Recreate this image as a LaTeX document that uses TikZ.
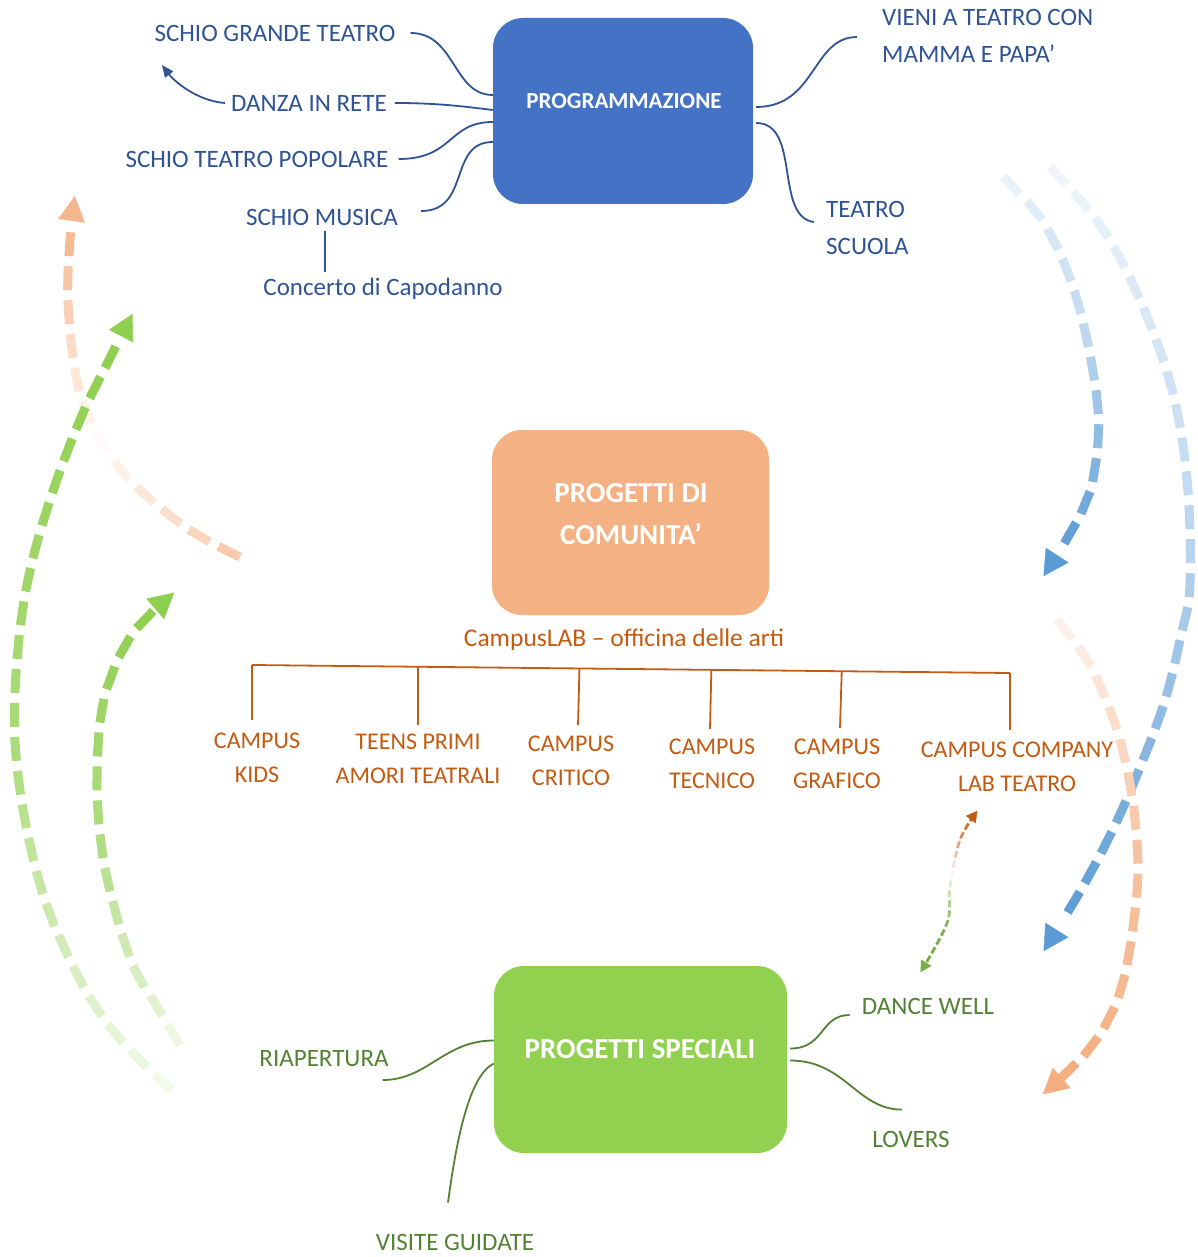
\documentclass[tikz,border=0pt]{standalone}
\usepackage{fontspec}
\setmainfont{Carlito}
\usetikzlibrary{arrows.meta,decorations.markings,calc}
\definecolor{bluetxt}{HTML}{2F5496}
\definecolor{boxblue}{HTML}{4472C4}
\definecolor{orgbox}{HTML}{F4B183}
\definecolor{orgtxt}{HTML}{C55A11}
\definecolor{grnbox}{HTML}{92D050}
\definecolor{grntxt}{HTML}{548235}
\definecolor{bluedash}{HTML}{5B9BD5}
\definecolor{orgdash}{HTML}{F4AE80}
\definecolor{grndash}{HTML}{8FCF4F}
\newcommand\mkfrac{%
  \pgfmathsetmacro\myfr{(\pgfkeysvalueof{/pgf/decoration/mark info/sequence number}*34+12)/(\pgfdecoratedpathlength+0.0001)}%
}
\tikzset{
  fd/.style n args={6}{%
    postaction={decorate},
    decoration={markings,
      mark=between positions 12pt and -26pt step 34pt with {%
        \mkfrac
        \ifdim\myfr pt<0.5pt
          \pgfmathsetmacro\myint{#2+(#3-#2)*2*\myfr}%
        \else
          \pgfmathsetmacro\myint{#3+(#4-#3)*(2*\myfr-1)}%
        \fi
        \pgfmathsetmacro\myint{max(0,min(100,\myint))}%
        \draw[line width=#5, draw=#1!\myint!white] (-#6,0pt) -- (#6,0pt);
      },
      mark=at position -1pt with {\arrow[#1!#4!white]{Triangle[length=25pt,width=27pt]}}
    }
  },
  fdd/.style 2 args={%
    postaction={decorate},
    decoration={markings,
      mark=at position 1pt with {\arrowreversed[#1]{Triangle[length=11pt,width=12pt]}},
      mark=between positions 10pt and -10pt step 10pt with {%
        \pgfmathsetmacro\myfr{(\pgfkeysvalueof{/pgf/decoration/mark info/sequence number}*10+10)/(\pgfdecoratedpathlength+0.0001)}%
        \ifdim\myfr pt<0.5pt
          \pgfmathsetmacro\myint{max(0,min(100,150-290*\myfr))}\def\mycc{#1}%
        \else
          \pgfmathsetmacro\myint{max(0,min(100,290*\myfr-140))}\def\mycc{#2}%
        \fi
        \draw[line width=2.8pt, draw=\mycc!\myint!white] (-3.5pt,0pt) -- (3.5pt,0pt);
      },
      mark=at position -1pt with {\arrow[#2]{Triangle[length=11pt,width=12pt]}}
    }
  },
  box/.style={rounded corners=30pt, inner sep=0pt},
  boxtxt/.style={text=white, font=\bfseries\fontsize{23}{28}\selectfont, align=center},
  boxtxtb/.style={text=white, font=\bfseries\fontsize{29}{42}\selectfont, align=center},
  btxt/.style={text=bluetxt, font=\fontsize{25}{37}\selectfont, inner sep=6pt, align=left},
  otxt/.style={text=orgtxt, font=\fontsize{24}{34}\selectfont, inner sep=4pt, align=center},
  gtxt/.style={text=grntxt, font=\fontsize{25}{30}\selectfont, inner sep=6pt, align=center},
  bcon/.style={draw=bluetxt, line width=1.8pt},
  gcon/.style={draw=grntxt, line width=1.8pt},
  ocon/.style={draw=orgtxt, line width=1.8pt},
}
\begin{document}
\begin{tikzpicture}[x=1pt,y=-1pt]
\useasboundingbox[fill=white] (0,0) rectangle (1197,1257);

% ---------------- boxes
\node[box, fill=boxblue, minimum width=260, minimum height=186] (prog) at (623,111) {};
\node[boxtxt] (progt) at (624,101) {PROGRAMMAZIONE};
\node[box, fill=orgbox, minimum width=277, minimum height=185] (com) at (630.5,522.5) {};
\node[boxtxtb] (comt) at (631,514) {PROGETTI DI\\COMUNITA’};
\node[box, fill=grnbox, minimum width=293, minimum height=187] (spe) at (640.5,1059.5) {};
\node[boxtxtb] (spet) at (640,1049) {PROGETTI SPECIALI};

% ---------------- blue labels
\node[btxt] (sgt) at (275,33) {SCHIO GRANDE TEATRO};
\node[btxt] (dzr) at (309,103) {DANZA IN RETE};
\node[btxt] (stp) at (257,159) {SCHIO TEATRO POPOLARE};
\node[btxt] (smu) at (322,217) {SCHIO MUSICA};
\node[btxt] (cdc) at (383,289) {Concerto di Capodanno};
\node[btxt, anchor=west] (vie) at (876,36) {VIENI A TEATRO CON\\MAMMA E PAPA’};
\node[btxt, anchor=west] (ts) at (820,228) {TEATRO\\SCUOLA};

\draw[bcon] ([xshift=9]sgt.east) .. controls +(45,0) and +(-40,0) .. ($(prog.west)+(0,-16)$);
\draw[bcon] ([xshift=2]dzr.east) .. controls +(45,0) and +(-25,-3) .. ($(prog.west)+(0,-1)$);
\draw[bcon] ([xshift=4]stp.east) .. controls +(55,0) and +(-45,0) .. ($(prog.west)+(0,11)$);
\draw[bcon] ($(smu.east)+(17,-6)$) .. controls +(50,0) and +(-45,0) .. ($(prog.west)+(0,31)$);
\coordinate (vx) at (325,0);
\draw[bcon] (vx |- smu.south) -- (vx |- cdc.north);
\draw[bcon, -{Triangle[length=12pt,width=10pt]}] (dzr.west) .. controls +(-28,-2) and +(12,16) .. (162,65);
\draw[bcon] ($(prog.east)+(3,-4)$) .. controls +(60,0) and +(-45,0) .. ($(vie.west)+(-19,1)$);
\draw[bcon] ($(prog.east)+(3,12)$) .. controls +(45,0) and +(-40,-5) .. ($(ts.west)+(-6,-6)$);

% ---------------- orange tree
\node[otxt, font=\fontsize{25.5}{30}\selectfont] (lab) at (624,640) {CampusLAB – officina delle arti};
\coordinate (hl) at (252,665);
\coordinate (hr) at (1010,673);
\draw[ocon] (hl) -- (hr);
\node[otxt] (kids) at (257,758) {CAMPUS\\KIDS};
\node[otxt] (teens) at (418,759) {TEENS PRIMI\\AMORI TEATRALI};
\node[otxt] (crit) at (571,760.5) {CAMPUS\\CRITICO};
\node[otxt] (tecn) at (712,764) {CAMPUS\\TECNICO};
\node[otxt] (graf) at (837,764) {CAMPUS\\GRAFICO};
\node[otxt] (comp) at (1017,767) {CAMPUS COMPANY\\LAB TEATRO};
\draw[ocon] (hl) -- (252,720);
\draw[ocon] ($(hl)!0.219!(hr)$) -- (418,725);
\draw[ocon] ($(hl)!0.432!(hr)$) -- (578,725);
\draw[ocon] ($(hl)!0.606!(hr)$) -- (710,729);
\draw[ocon] ($(hl)!0.778!(hr)$) -- (840,728);
\draw[ocon] (hr) -- (1010,730);

% ---------------- green labels
\node[gtxt] (dw) at (928,1006) {DANCE WELL};
\node[gtxt] (riap) at (324,1059) {RIAPERTURA};
\node[gtxt] (lov) at (911,1139) {LOVERS};
\node[gtxt] (vg) at (455,1242) {VISITE GUIDATE};

\draw[gcon] ($(spe.east)+(3,-11)$) .. controls +(35,0) and +(-30,0) .. ($(dw.west)+(-6,9)$);
\draw[gcon] ($(spe.east)+(3,1)$) .. controls +(55,0) and +(-45,0) .. ($(lov.north)+(-9,-15)$);
\draw[gcon] ($(spe.west)+(0,-19)$) .. controls +(-50,0) and +(45,0) .. ($(riap.east)+(-12,21)$);
\draw[gcon] ($(spe.west)+(0,4)$) .. controls +(-25,12) and +(8,-60) .. ($(vg.north)+(-7,-25)$);

% ---------------- dashed flow arrows
\path[fd={bluedash}{6}{40}{100}{9pt}{12pt}] plot[smooth, tension=0.6] coordinates
  {(1003,177) (1045,225) (1077,300) (1097,400) (1095,467) (1080,515) (1043,577)};
\path[fd={bluedash}{6}{40}{100}{9pt}{12pt}] plot[smooth, tension=0.6] coordinates
  {(1050,167) (1100,225) (1140,300) (1172,390) (1187,480) (1190,583) (1180,640) (1165,700) (1143,760) (1115,825) (1082,888) (1043,952)};
\path[fd={orgdash}{80}{4}{90}{9pt}{12pt}] plot[smooth, tension=0.6] coordinates
  {(240,557) (190,530) (140,490) (110,455) (88,415) (75,370) (68,300) (70,240) (75,195)};
\path[fd={orgdash}{4}{70}{100}{9pt}{12pt}] plot[smooth, tension=0.6] coordinates
  {(1057,620) (1087,660) (1110,710) (1125,760) (1135,820) (1137,890) (1122,985) (1092,1045) (1042,1095)};
\path[fd={grndash}{3}{75}{100}{9pt}{12pt}] plot[smooth, tension=0.6] coordinates
  {(172,1090) (140,1060) (105,1020) (75,970) (45,900) (25,820) (15,740) (17,660) (28,580) (50,500) (80,420) (108,362) (133,313)};
\path[fd={grndash}{4}{70}{100}{9pt}{12pt}] plot[smooth, tension=0.6] coordinates
  {(180,1045) (153,1000) (133,965) (115,910) (102,850) (97,780) (102,710) (118,660) (140,625) (175,592)};
\path[fdd={orgtxt}{grndash!60!grntxt}] plot[smooth, tension=0.6] coordinates
  {(978,810) (960,840) (950,887) (947,923) (920,973)};
\end{tikzpicture}
\end{document}
